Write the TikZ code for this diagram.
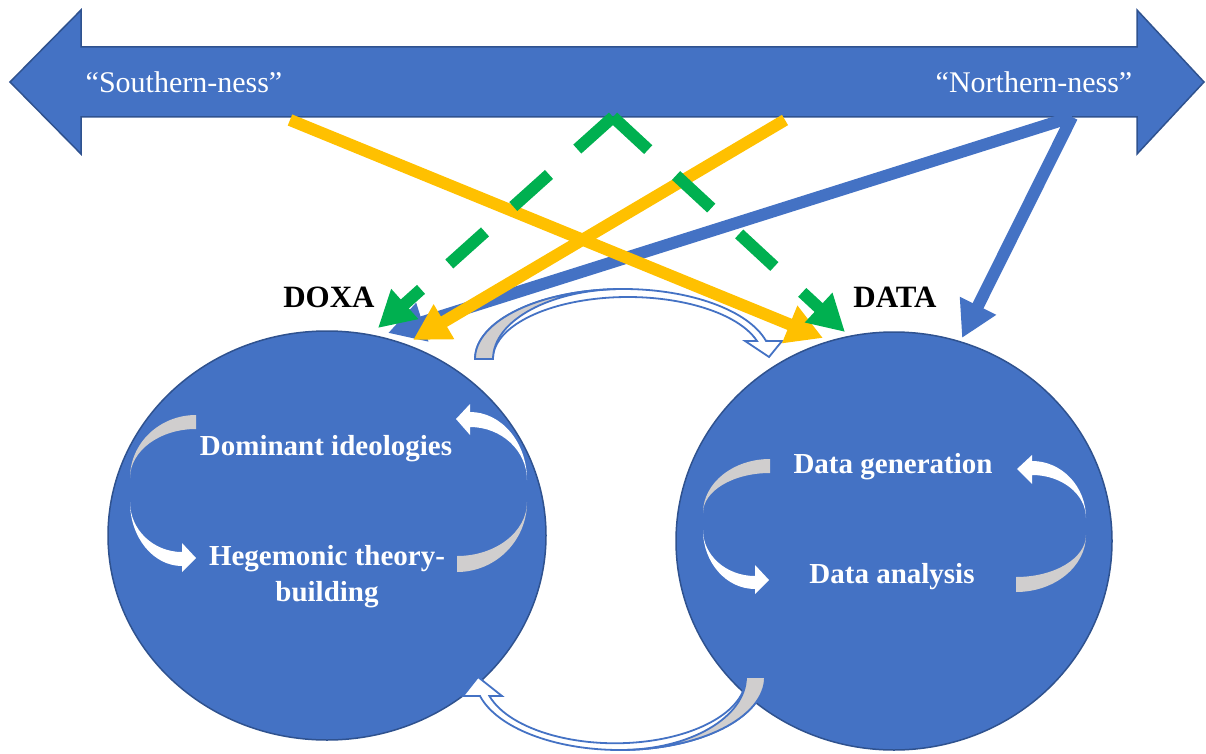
\documentclass[tikz,border=0pt]{standalone}
\usepackage{fontspec}
\setmainfont{Liberation Serif}
\usetikzlibrary{arrows.meta,shapes.geometric}
\definecolor{pblue}{HTML}{4472C4}
\definecolor{pborder}{HTML}{2F528F}
\definecolor{pyellow}{HTML}{FFC000}
\definecolor{pgreen}{HTML}{00B050}
\definecolor{pgrey}{HTML}{D0CECE}
\begin{document}
\begin{tikzpicture}[x=1pt,y=-1pt,
  bigarrow/.style={fill=pblue,draw=pborder,line width=1.5pt,line join=miter},
  disc/.style={ellipse,fill=pblue,draw=pborder,line width=1.5pt,inner sep=0pt,outer sep=0pt},
  conn/.style={line width=12pt,line cap=butt,-{Triangle[length=36pt,width=38pt]}},
  swaparrow/.style={fill=white,draw=pblue,line width=1.8pt,line join=miter},
  swapgrey/.style={fill=pgrey,draw=pblue,line width=1.8pt,line join=miter},
  poletext/.style={text=white,font=\fontsize{30}{36}\selectfont,inner sep=0pt},
  headtext/.style={text=black,font=\bfseries\fontsize{31}{36}\selectfont,inner sep=0pt},
  intext/.style={text=white,font=\bfseries\fontsize{29}{36}\selectfont,inner sep=0pt,align=center}
]
\useasboundingbox (0,0) rectangle (1206,754);

% big double-headed arrow
\path[bigarrow] (10,82) -- (81,10) -- (81,47) -- (1137,47) -- (1137,10) -- (1204,82)
  -- (1137,154) -- (1137,117) -- (81,117) -- (81,154) -- cycle;
\node[poletext] (south) at (184,82) {“Southern-ness”};
\node[poletext] (north) at (1034,82) {“Northern-ness”};

% the two discs
\node[disc,minimum width=438pt,minimum height=409pt] (doxaC) at (327,535.5) {};
\node[disc,minimum width=436pt,minimum height=418pt] (dataC) at (894,541) {};

% inner cycle arrows, DOXA disc
\fill[pgrey] (196,415) arc[start angle=-90,end angle=-180,x radius=66,y radius=63]
  arc[start angle=180,end angle=270,x radius=66,y radius=49] -- cycle;
\fill[white] (130,502) arc[start angle=180,end angle=90,x radius=52,y radius=64]
  -- (182,572) -- (196,558) -- (182,543) -- (182,552)
  arc[start angle=90,end angle=180,x radius=52,y radius=50] -- cycle;
\fill[white] (527,480) arc[start angle=0,end angle=-90,x radius=57,y radius=68]
  -- (470,404) -- (456,419) -- (470,435) -- (470,427)
  arc[start angle=-90,end angle=0,x radius=57,y radius=53] -- cycle;
\fill[pgrey] (527,502) arc[start angle=0,end angle=90,x radius=70,y radius=70]
  -- (457,556) arc[start angle=90,end angle=0,x radius=70,y radius=54] -- cycle;

% inner cycle arrows, DATA disc
\fill[pgrey] (770,459) arc[start angle=-90,end angle=-180,x radius=67,y radius=54]
  arc[start angle=180,end angle=270,x radius=67,y radius=40] -- cycle;
\fill[white] (703,530) arc[start angle=180,end angle=90,x radius=52,y radius=59]
  -- (755,594) -- (769,580) -- (755,565) -- (755,576)
  arc[start angle=90,end angle=180,x radius=52,y radius=46] -- cycle;
\fill[white] (1086,518) arc[start angle=0,end angle=-90,x radius=54,y radius=57]
  -- (1032,455) -- (1017,469) -- (1032,484) -- (1032,475)
  arc[start angle=-90,end angle=0,x radius=54,y radius=43] -- cycle;
\fill[pgrey] (1086,535) arc[start angle=0,end angle=90,x radius=70,y radius=57]
  -- (1016,577) arc[start angle=90,end angle=0,x radius=70,y radius=42] -- cycle;

% inner texts
\node[intext] (dom) at (326,449) {Dominant ideologies};
\node[intext] (heg) at (327,577) {Hegemonic theory-\\building};
\node[intext] (gen) at (893,467) {Data generation};
\node[intext] (ana) at (892,577) {Data analysis};

% headings
\node[headtext] (doxa) at (329,297) {DOXA};
\node[headtext] (data) at (895,297) {DATA};

% curved arrow DOXA -> DATA (top)
\path[swaparrow] (475,359) arc[start angle=180,end angle=345,x radius=148,y radius=70]
  -- (782,341) -- (769,357) -- (745,341) -- (757,341)
  arc[start angle=343.1,end angle=180,x radius=135,y radius=62] -- cycle;
\path[swapgrey] (475,359) arc[start angle=180,end angle=270,x radius=148,y radius=70]
  arc[start angle=270,end angle=180,x radius=130,y radius=70] -- cycle;

% curved arrow DATA -> DOXA (bottom)
\path[swaparrow] (765,677) arc[start angle=0,end angle=165,x radius=145,y radius=73]
  -- (463,696) -- (478,677) -- (502,696) -- (489.4,696)
  arc[start angle=163.5,end angle=0,x radius=131,y radius=66] -- cycle;
\path[swapgrey] (765,677) arc[start angle=0,end angle=90,x radius=145,y radius=73]
  arc[start angle=90,end angle=0,x radius=126,y radius=73] -- cycle;

% connector end points
\coordinate (sY) at (290,120);
\coordinate (nY) at (785,120);
\coordinate (nB) at (1072,117);
\coordinate (peak) at (613,117);
\coordinate (doxaY) at (413,340);
\coordinate (doxaB) at (388,333);
\coordinate (doxaG) at (378,328);
\coordinate (dataY) at (823,338);
\coordinate (dataG) at (845,332);
\coordinate (dataB) at (962,338);

% connectors
\draw[conn,pblue] (nB) -- (doxaB);
\draw[conn,pblue] (nB) -- (dataB);
\draw[conn,pyellow] (sY) -- (dataY);
\draw[conn,pyellow] (nY) -- (doxaY);
\draw[conn,pgreen,dash pattern=on 48pt off 38pt] (peak) -- (doxaG);
\draw[conn,pgreen,dash pattern=on 48pt off 38pt] (peak) -- (dataG);
\end{tikzpicture}
\end{document}
